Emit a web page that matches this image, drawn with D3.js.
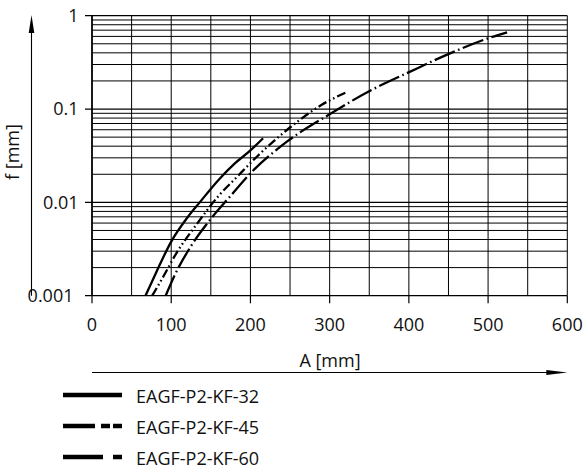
<!DOCTYPE html>
<html><head><meta charset="utf-8">
<script src="https://cdn.jsdelivr.net/npm/d3@7"></script>
<style>
html,body{margin:0;padding:0;background:#fff;}
svg{display:block;font-family:"Open Sans",sans-serif;}
</style></head>
<body><svg id="chart" width="587" height="471"></svg>
<script>
// ---- data ----
const xTicks = [0, 100, 200, 300, 400, 500, 600];
const xGrid = [0, 50, 100, 150, 200, 250, 300, 350, 400, 450, 500, 550, 600];
const yTicks = [0.001, 0.01, 0.1, 1];
const yTickLabels = ["0.001", "0.01", "0.1", "1"];
const seriesNames = ["EAGF-P2-KF-32", "EAGF-P2-KF-45", "EAGF-P2-KF-60"];
const kf32A = [67.5, 80, 100, 120, 136, 160, 180, 200, 216];
const kf32F = [0.001, 0.0017, 0.0038, 0.0068, 0.0100, 0.0175, 0.026, 0.036, 0.0486];
const kf45A = [76, 90, 107, 130, 160, 181, 210, 254, 290, 321];
const kf45F = [0.001, 0.0016, 0.0029, 0.0055, 0.0118, 0.018, 0.032, 0.0675, 0.111, 0.151];
const kf60A = [93, 105, 125, 149, 174, 200, 246, 300, 351, 401, 452, 500, 524];
const kf60F = [0.001, 0.0017, 0.0034, 0.0065, 0.0115, 0.0205, 0.0447, 0.088, 0.157, 0.25, 0.395, 0.573, 0.664];
const xLabel = "A [mm]";
const yLabel = "f [mm]";

// ---- layout ----
const L = 92, R = 567.3, T = 15.7, B = 295.7;
const svg = d3.select("#chart");
const x = d3.scaleLinear().domain([0, 600]).range([L, R]);
const y = d3.scaleLog().domain([0.001, 1]).range([B, T]);

const g = svg.append("g");
// horizontal minor grid
const minor = [];
[0.001, 0.01, 0.1].forEach(d => { for (let k = 2; k <= 9; k++) minor.push(d * k); });
g.selectAll(".hm").data(minor).enter().append("line")
  .attr("x1", L).attr("x2", R).attr("y1", d => y(d)).attr("y2", d => y(d))
  .attr("stroke", "#000").attr("stroke-width", 1);
g.selectAll(".hM").data(yTicks).enter().append("line")
  .attr("x1", L - 7).attr("x2", R).attr("y1", d => y(d)).attr("y2", d => y(d))
  .attr("stroke", "#000").attr("stroke-width", 1.2);
g.selectAll(".vg").data(xGrid).enter().append("line")
  .attr("x1", d => x(d)).attr("x2", d => x(d)).attr("y1", T).attr("y2", B)
  .attr("stroke", "#000").attr("stroke-width", 1);
g.selectAll(".xt").data(xTicks).enter().append("line")
  .attr("x1", d => x(d)).attr("x2", d => x(d)).attr("y1", B).attr("y2", B + 7.6)
  .attr("stroke", "#000").attr("stroke-width", 1.2);
// frame emphasis
g.append("line").attr("x1", L).attr("x2", L).attr("y1", T).attr("y2", B).attr("stroke", "#000").attr("stroke-width", 1.6);

// tick labels
svg.selectAll(".xl").data(xTicks).enter().append("text")
  .attr("x", d => x(d)).attr("y", B + 35.5).attr("text-anchor", "middle")
  .attr("font-size", 18).attr("fill", "#111").text(d => d);
svg.selectAll(".yl").data(yTicks).enter().append("text")
  .attr("x", (d, i) => i === 0 ? 73.5 : 78.5).attr("y", d => y(d) + 6.4).attr("text-anchor", "end")
  .attr("font-size", 18).attr("fill", "#111").text((d, i) => yTickLabels[i]);

// axes arrows
function arrowV(xp, y0, y1) {
  svg.append("line").attr("x1", xp).attr("x2", xp).attr("y1", y0).attr("y2", y1 + 10).attr("stroke", "#000").attr("stroke-width", 1.1);
  svg.append("path").attr("d", `M${xp},${y1} L${xp - 2.8},${y1 + 18} L${xp + 2.8},${y1 + 18} Z`).attr("fill", "#000");
}
function arrowH(yp, x0, x1) {
  svg.append("line").attr("x1", x0).attr("x2", x1 - 10).attr("y1", yp).attr("y2", yp).attr("stroke", "#000").attr("stroke-width", 1.1);
  svg.append("path").attr("d", `M${x1},${yp} L${x1 - 21},${yp - 2.6} L${x1 - 21},${yp + 2.6} Z`).attr("fill", "#000");
}
arrowV(31.5, B, 15);
arrowH(372.5, L, R);

svg.append("text").attr("transform", "translate(19,152) rotate(-90)").attr("text-anchor", "middle")
  .attr("font-size", 18).attr("fill", "#111").text(yLabel);
svg.append("text").attr("x", 330).attr("y", 366.5).attr("text-anchor", "middle")
  .attr("font-size", 18).attr("fill", "#111").text(xLabel);

// curves
const styles = [null, "9,3,1.6,3,1.6,3", "22,3.5,1.6,3.5"];
const legendDash = [null, "32,6,9,3,9", "40,10,9"];
const data = [
  kf32A.map((a, i) => [a, kf32F[i]]),
  kf45A.map((a, i) => [a, kf45F[i]]),
  kf60A.map((a, i) => [a, kf60F[i]])
];
const line = d3.line().x(d => x(d[0])).y(d => y(d[1])).curve(d3.curveMonotoneX);
data.forEach((d, i) => {
  svg.append("path").attr("d", line(d)).attr("fill", "none").attr("stroke", "#000")
    .attr("stroke-width", 2.3).attr("stroke-dasharray", styles[i]);
});

// legend
const legY = [395, 426, 457];
seriesNames.forEach((n, i) => {
  svg.append("line").attr("x1", 63).attr("x2", 122).attr("y1", legY[i]).attr("y2", legY[i])
    .attr("stroke", "#000").attr("stroke-width", 4.6).attr("stroke-dasharray", legendDash[i]);
  svg.append("text").attr("x", 136).attr("y", legY[i] + 7.5).attr("font-size", 18).attr("fill", "#111").text(n);
});
</script></body></html>
